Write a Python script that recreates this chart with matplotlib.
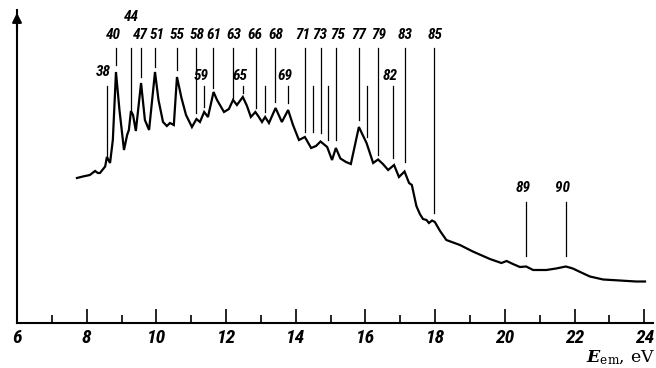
import matplotlib
matplotlib.use("Agg")
import matplotlib.pyplot as plt

# emission spectrum, energy (eV) vs intensity (arb. units)
energy = [7.72, 7.89, 8.09, 8.24, 8.32, 8.38, 8.53, 8.58, 8.67, 8.75, 8.84, 8.94, 9.07, 9.16,
          9.21, 9.27, 9.33, 9.41, 9.56, 9.67, 9.79, 9.96, 10.06, 10.19, 10.30, 10.39, 10.50,
          10.59, 10.72, 10.85, 11.02, 11.15, 11.25, 11.37, 11.48, 11.64, 11.74, 11.94, 12.08,
          12.20, 12.31, 12.48, 12.60, 12.71, 12.84, 12.94, 13.03, 13.12, 13.23, 13.42, 13.60,
          13.78, 13.92, 14.09, 14.26, 14.44, 14.58, 14.71, 14.90, 15.04, 15.15, 15.28, 15.44,
          15.58, 15.81, 16.03, 16.22, 16.36, 16.50, 16.65, 16.82, 16.96, 17.12, 17.25, 17.33,
          17.46, 17.56, 17.65, 17.75, 17.82, 17.91, 17.99, 18.14, 18.32, 18.71, 19.08, 19.57,
          19.90, 20.05, 20.23, 20.43, 20.61, 20.81, 21.19, 21.47, 21.75, 21.95, 22.16, 22.44,
          22.82, 23.30, 23.76, 24.02]
intensity = [145, 146.5, 148, 152, 150, 150, 156.5, 166, 160, 183, 251, 213, 173, 188,
             193, 212, 208, 192, 240, 203, 193, 251, 223, 201, 197, 200, 198,
             246, 225, 208, 196, 204, 201, 211, 206, 231, 223, 211, 214,
             223, 218, 226, 217, 206, 211, 206, 201, 206, 200, 215, 201,
             213, 198, 183, 186, 175, 177, 181.5, 176, 163, 175, 164.5, 161,
             159, 196, 180, 160, 163.5, 159, 153, 158, 146, 151.5, 140, 138,
             117, 109, 104, 103, 100, 102.5, 101, 92, 83, 78, 71.5, 64,
             60, 62, 59, 56, 56.5, 53, 53, 54.5, 56.5, 54.5, 51, 46.5,
             43.5, 42.5, 41.5, 41.5]

# marked lines: label, line energy, label energy, lower end of line
top_labels = ["40", "44", "47", "51", "55", "58", "61", "63", "66", "68",
              "71", "73", "75", "77", "79", "83", "85"]
top_pos = [8.84, 9.27, 9.57, 9.96, 10.58, 11.13, 11.63, 12.21, 12.85, 13.40,
           14.27, 14.71, 15.15, 15.81, 16.35, 17.12, 17.98]
top_text = [8.77, 9.27, 9.53, 10.02, 10.59, 11.18, 11.65, 12.23, 12.84, 13.43,
            14.21, 14.69, 15.21, 15.81, 16.39, 17.13, 17.99]
top_end = [258, 213, 246, 256, 253, 210, 235, 225, 215, 221,
           191, 190, 183, 203, 168, 161, 110]

low_labels = ["38", "59", "65", "69", "82"]
low_pos = [8.57, 11.37, 12.49, 13.78, 16.80]
low_end = [166, 216, 230, 220, 165]

plain_pos = [13.12, 14.50, 14.93, 16.03]
plain_end = [211, 191, 183, 186]

far_labels = ["89", "90"]
far_pos = [20.61, 21.75]
far_end = [67, 67]

narrow = ["Roboto Condensed", "DejaVu Sans Condensed", "Open Sans Condensed", "DejaVu Sans"]

fig = plt.figure(figsize=(6.56, 3.68), dpi=100)
ax = fig.add_axes([17/656, 45/368, 636/656, 313/368])

ax.plot(energy, intensity, color="black", lw=1.6, solid_joinstyle="miter")

lab_font = dict(family=narrow, stretch="condensed", style="italic",
                weight="bold", size=11)

for lab, x, tx, y0 in zip(top_labels, top_pos, top_text, top_end):
    ax.plot([x, x], [y0, 275], color="black", lw=0.9)
    ty = 306 if lab == "44" else 288
    ax.text(tx, ty, lab, ha="center", va="center", clip_on=False, **lab_font)

for lab, x, y0 in zip(low_labels, low_pos, low_end):
    ax.plot([x, x], [y0, 237], color="black", lw=0.9)
    ty = 251 if lab == "38" else 247
    ax.text(x - 0.08, ty, lab, ha="center", va="center", **lab_font)

for x, y0 in zip(plain_pos, plain_end):
    ax.plot([x, x], [y0, 237], color="black", lw=0.9)

for lab, x, y0 in zip(far_labels, far_pos, far_end):
    ax.plot([x, x], [y0, 121], color="black", lw=0.9)
    ax.text(x - 0.1, 135, lab, ha="center", va="center", **lab_font)

ax.set_xlim(6, 24.25)
ax.set_ylim(0, 313)
ax.spines["top"].set_visible(False)
ax.spines["right"].set_visible(False)
ax.spines["left"].set_linewidth(1.5)
ax.spines["bottom"].set_linewidth(1.5)
ax.annotate("", xy=(6, 313), xytext=(6, 290),
            arrowprops=dict(arrowstyle="-|>", color="black", lw=1.5, mutation_scale=14),
            annotation_clip=False)

ax.set_yticks([])
ax.set_xticks(list(range(6, 25, 2)))
ax.set_xticks(list(range(7, 25, 2)), minor=True)
ax.tick_params(axis="x", which="major", direction="in", length=10, width=1.2, pad=4)
ax.tick_params(axis="x", which="minor", direction="in", length=6, width=1.2)
for t in ax.get_xticklabels():
    t.set_fontfamily(narrow)
    t.set_fontstretch("condensed")
    t.set_fontstyle("italic")
    t.set_fontweight("bold")
    t.set_fontsize(14)

fig.text(0.999, 0.016, r"$\mathbfit{E}_{\rm em}$, eV", ha="right", va="baseline",
         fontsize=12.5, family="DejaVu Serif", math_fontfamily="dejavuserif")

fig.savefig("out.png", dpi=100)
